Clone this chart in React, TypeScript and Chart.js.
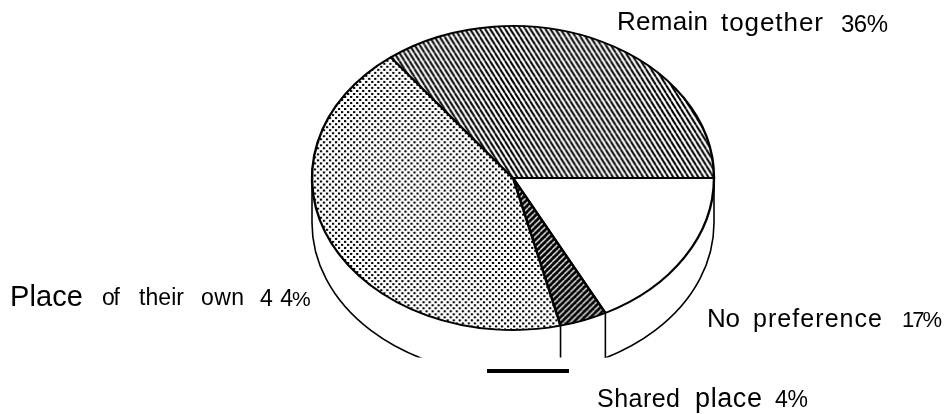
import React, { useEffect, useRef } from "react";
import { Chart, registerables } from "chart.js";

Chart.register(...registerables);

// Clockwise from the 3 o'clock edge of the pie
const categories = ["No preference", "Shared place", "Place of their own", "Remain together"];
// Slice shares (the printed labels round them to 17, 4, 44, 36).
const shares = [17.4, 3.8, 43.4, 35.4];

const FONT = '"Liberation Sans", Arial, sans-serif';
const W = 947;
const H = 414;
const PIE = { cx: 513, cy: 178, rx: 201, ry: 152, depth: 45, wallClipY: 357.5 };
const YSCALE = PIE.ry / PIE.rx;

type Run = { text: string; x: number; base: number; size: number; width: number };
const labelRuns: Run[] = [
  { text: "Remain", x: 617, base: 30, size: 26, width: 91 },
  { text: "together", x: 721, base: 31, size: 26, width: 102 },
  { text: "36%", x: 841, base: 32, size: 24, width: 47 },
  { text: "Place", x: 10, base: 306, size: 29, width: 73 },
  { text: "of", x: 102, base: 305, size: 23, width: 18 },
  { text: "their", x: 139, base: 305, size: 23, width: 45 },
  { text: "own", x: 201, base: 305, size: 23, width: 43 },
  { text: "44", x: 260, base: 306, size: 23, width: 33 },
  { text: "%", x: 292, base: 306, size: 21, width: 18 },
  { text: "No", x: 707, base: 327, size: 26, width: 33 },
  { text: "preference", x: 753, base: 327, size: 25, width: 129 },
  { text: "17%", x: 902, base: 327, size: 22, width: 40 },
  { text: "Shared", x: 597, base: 407, size: 25, width: 83 },
  { text: "place", x: 695, base: 407, size: 27, width: 67 },
  { text: "4%", x: 775, base: 407, size: 23, width: 33 },
];

function tile(w: number, h: number, draw: (c: CanvasRenderingContext2D) => void) {
  const cv = document.createElement("canvas");
  cv.width = w;
  cv.height = h;
  const c = cv.getContext("2d")!;
  draw(c);
  const p = c.createPattern(cv, "repeat")!;
  // The pie is squashed when painted, so stretch tiles to keep their look on screen.
  p.setTransform(new DOMMatrix().scale(1, 1 / YSCALE));
  return p;
}

function makeFills() {
  const diagonal = (c: CanvasRenderingContext2D, w: number, h: number, colour: string, lw: number, down: boolean) => {
    c.strokeStyle = colour;
    c.lineWidth = lw;
    for (let i = -1; i <= 1; i++) {
      c.beginPath();
      if (down) {
        c.moveTo(i * w, 0);
        c.lineTo(i * w + w, h);
      } else {
        c.moveTo(i * w + w, 0);
        c.lineTo(i * w, h);
      }
      c.stroke();
    }
  };
  const hatch = tile(5, 8, (c) => {
    c.fillStyle = "#fff";
    c.fillRect(0, 0, 5, 8);
    diagonal(c, 5, 8, "#000", 2.0, true);
  });
  const dark = tile(6, 6, (c) => {
    c.fillStyle = "#000";
    c.fillRect(0, 0, 6, 6);
    diagonal(c, 6, 6, "#fff", 1.3, false);
  });
  const dots = tile(6, 6, (c) => {
    c.fillStyle = "#fff";
    c.fillRect(0, 0, 6, 6);
    c.fillStyle = "#000";
    c.fillRect(0, 0, 2, 2);
    c.fillRect(3, 3, 2, 2);
    c.fillStyle = "#ccc";
    c.fillRect(2, 0, 1, 2);
    c.fillRect(5, 3, 1, 2);
  });
  return ["#ffffff", dark, dots, hatch];
}

const squashPie = {
  id: "squashPie",
  beforeDatasetsDraw(chart: any) {
    const ctx: CanvasRenderingContext2D = chart.ctx;
    const arcs = chart.getDatasetMeta(0).data;
    const { cx, cy, rx, ry, depth, wallClipY } = PIE;

    // side wall of the disc
    ctx.save();
    ctx.beginPath();
    ctx.rect(0, 0, W, wallClipY);
    ctx.clip();
    ctx.strokeStyle = "#000";
    ctx.lineWidth = 1.6;
    ctx.beginPath();
    ctx.moveTo(cx + rx, cy);
    ctx.lineTo(cx + rx, cy + depth);
    ctx.ellipse(cx, cy + depth, rx, ry, 0, 0, Math.PI);
    ctx.lineTo(cx - rx, cy);
    ctx.stroke();
    arcs.forEach((a: any) => {
      const ang = a.endAngle;
      if (ang > 0 && ang < Math.PI) {
        const x = cx + rx * Math.cos(ang);
        const y = cy + ry * Math.sin(ang);
        ctx.beginPath();
        ctx.moveTo(x, y);
        ctx.lineTo(x, y + depth);
        ctx.stroke();
      }
    });
    ctx.restore();

    // flatten the circle to the pie's ellipse
    const a0 = arcs[0];
    ctx.save();
    ctx.translate(cx, cy);
    ctx.scale(rx / a0.outerRadius, ry / a0.outerRadius);
    ctx.translate(-a0.x, -a0.y);
  },
  afterDatasetsDraw(chart: any) {
    const ctx: CanvasRenderingContext2D = chart.ctx;
    ctx.restore();

    ctx.fillStyle = "#000";
    ctx.fillRect(487, 369, 82, 4);

    ctx.textBaseline = "alphabetic";
    ctx.textAlign = "left";
    labelRuns.forEach((r) => {
      ctx.font = `${r.size}px ${FONT}`;
      (ctx as any).letterSpacing = "0px";
      const natural = ctx.measureText(r.text).width;
      const gap = r.text.length > 1 ? (r.width - natural) / (r.text.length - 1) : 0;
      (ctx as any).letterSpacing = `${gap}px`;
      ctx.fillText(r.text, r.x, r.base);
    });
    (ctx as any).letterSpacing = "0px";
  },
};

export default function App() {
  const ref = useRef<HTMLCanvasElement>(null);
  useEffect(() => {
    const chart = new Chart(ref.current!, {
      type: "pie",
      data: {
        labels: categories,
        datasets: [
          {
            data: shares,
            backgroundColor: makeFills() as any,
            borderColor: "#000",
            borderWidth: 2.4,
            clip: false as any,
          },
        ],
      },
      options: {
        responsive: false,
        animation: false,
        rotation: 90,
        layout: { padding: { left: 312, right: 233, top: 0, bottom: 0 } },
        plugins: { legend: { display: false }, tooltip: { enabled: false }, title: { display: false } },
      },
      plugins: [squashPie],
    });
    return () => chart.destroy();
  }, []);
  return (
    <div style={{ position: "fixed", left: 0, top: 0, width: W, height: H, background: "#fff" }}>
      <canvas ref={ref} width={W} height={H} style={{ display: "block" }} />
    </div>
  );
}
